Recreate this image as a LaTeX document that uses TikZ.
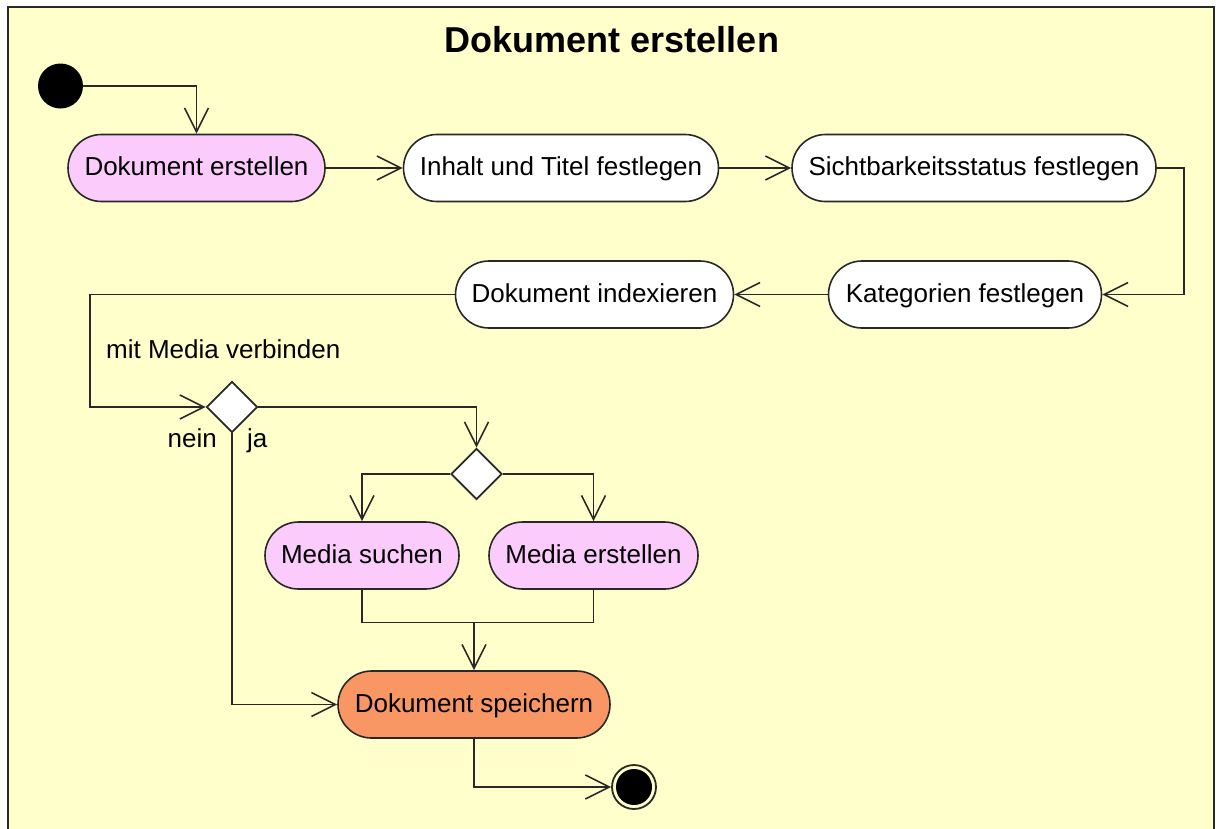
\documentclass[tikz,border=0pt]{standalone}
\usepackage{fontspec}
\setmainfont{Liberation Sans}
\usetikzlibrary{arrows.meta,shapes.geometric}

\definecolor{paper}{RGB}{255,255,204}
\definecolor{linec}{RGB}{40,40,40}
\definecolor{actpink}{RGB}{251,204,251}
\definecolor{actorange}{RGB}{248,150,100}

\begin{document}
\begin{tikzpicture}[x=1pt,y=-1pt,
  txt/.style={font=\fontsize{26}{30}\selectfont},
  act/.style={txt, draw=linec, line width=1.6pt, fill=white,
    rounded corners=33.5pt, minimum height=67pt, inner sep=0pt,
    text height=19pt, text depth=4pt},
  decision/.style={diamond, draw=linec, line width=1.8pt, fill=white,
    minimum width=51pt, minimum height=51pt, inner sep=0pt},
  flow/.style={draw=linec, line width=1.6pt,
    -{Straight Barb[length=24pt,width=24pt,line width=1.6pt]}},
  plain/.style={draw=linec, line width=1.6pt}]

% page and frame
\useasboundingbox (0,0) rectangle (1220,828);
\fill[white] (0,0) rectangle (1220,828);
\draw[line width=2.5pt, draw=linec, fill=paper] (8,7) rectangle (1214,850);

\node[font=\fontsize{36}{40}\selectfont\bfseries, anchor=base] (title) at (612,52) {Dokument erstellen};

% activity nodes
\node[circle, fill=black, minimum size=45pt, inner sep=0pt] (start) at (60.5,86) {};
\node[act, fill=actpink, minimum width=257pt] (a1) at (196.5,168) {Dokument erstellen};
\node[act, minimum width=315pt] (a2) at (561,168) {Inhalt und Titel festlegen};
\node[act, minimum width=364pt] (a3) at (974,168) {Sichtbarkeitsstatus festlegen};
\node[act, minimum width=273pt] (a4) at (965,294.5) {Kategorien festlegen};
\node[act, minimum width=278pt] (a5) at (594.5,294.5) {Dokument indexieren};
\node[decision] (d1) at (232,407) {};
\node[decision] (d2) at (476.5,474) {};
\node[act, fill=actpink, minimum width=194pt] (ms) at (362,555.5) {Media suchen};
\node[act, fill=actpink, minimum width=209pt] (me) at (593.5,555.5) {Media erstellen};
\node[act, fill=actorange, minimum width=272pt] (sp) at (474,704.5) {Dokument speichern};
\node[circle, draw=linec, line width=1.8pt, fill=paper, minimum size=44pt, inner sep=0pt] (end) at (634,787) {};
\fill[black] (end.center) circle (18pt);

% routing points
\coordinate (r1) at (1184,168);
\coordinate (l1) at (90,294.5);
\coordinate (join) at (474,622.5);

% labels
\node[txt, anchor=base west, inner sep=0pt] (lmedia) at (106,358) {mit Media verbinden};
\node[txt, anchor=base east, inner sep=0pt] (lnein) at (217,447) {nein};
\node[txt, anchor=base west, inner sep=0pt] (lja) at (247,447) {ja};

% connectors
\draw[flow] (start) -| (a1);
\draw[flow] (a1) -- (a2);
\draw[flow] (a2) -- (a3);
\draw[flow] (a3) -- (r1) |- (a4);
\draw[flow] (a4) -- (a5);
\draw[flow] (a5) -- (l1) |- (d1);
\draw[flow] (d1) -| (d2);
\draw[flow] (d2) -| (ms);
\draw[flow] (d2) -| (me);
\draw[plain] (ms) |- (join) -| (me);
\draw[flow] (join) -- (sp);
\draw[flow] (d1) |- (sp);
\draw[flow] (sp) |- (end);
\end{tikzpicture}
\end{document}
